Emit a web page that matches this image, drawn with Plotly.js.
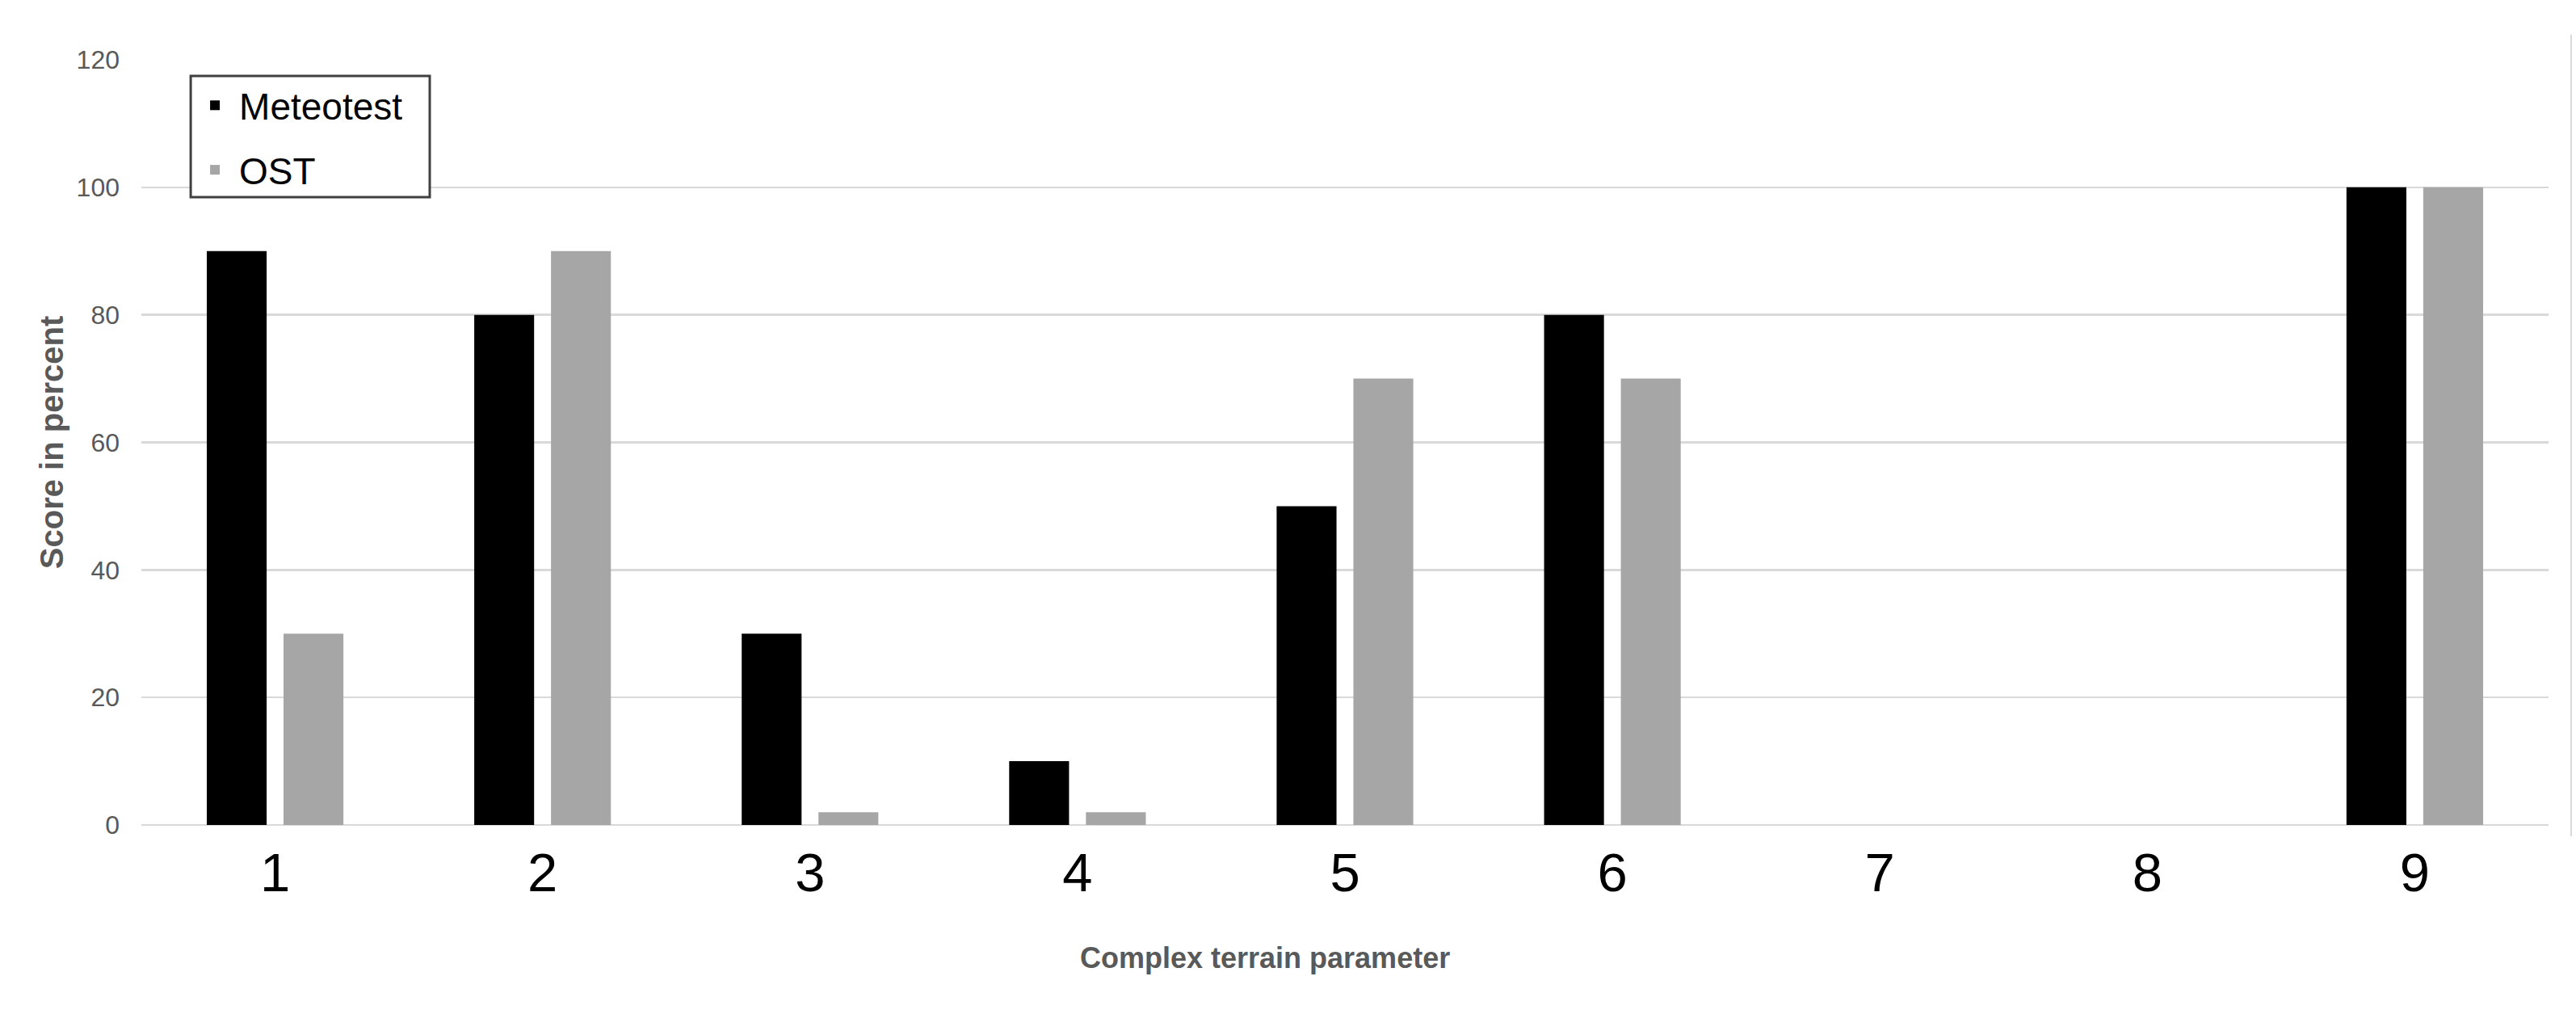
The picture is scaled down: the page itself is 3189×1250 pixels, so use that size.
<!DOCTYPE html>
<html>
<head>
<meta charset="utf-8">
<script src="https://cdn.plot.ly/plotly-3.0.1.min.js"></script>
<style>
  html, body { margin: 0; padding: 0; background: #ffffff; }
  #chart { width: 3189px; height: 1250px; }
</style>
</head>
<body>
<div id="chart"></div>
<script>
// ---- Data ----
const categories = ["1", "2", "3", "4", "5", "6", "7", "8", "9"];
const meteotest = [90, 80, 30, 10, 50, 80, 0, 0, 100];
const ost = [30, 90, 2, 2, 70, 70, 0, 0, 100];
const seriesNames = ["Meteotest", "OST"];
const yTicks = [0, 20, 40, 60, 80, 100, 120];
const xTitle = "Complex terrain parameter";
const yTitle = "Score in percent";

const FONT = "Arial, 'Liberation Sans', sans-serif";

const traces = [
  {
    type: "bar",
    name: seriesNames[0],
    x: categories,
    y: meteotest,
    marker: { color: "#000000" },
    legendgroup: "a"
  },
  {
    type: "bar",
    name: seriesNames[1],
    x: categories,
    y: ost,
    marker: { color: "#a6a6a6" },
    legendgroup: "b"
  }
];

const layout = {
  width: 3189,
  height: 1250,
  paper_bgcolor: "#ffffff",
  plot_bgcolor: "#ffffff",
  margin: { l: 175, r: 34, t: 74, b: 229, pad: 0 },
  barmode: "group",
  bargap: 0.426,
  bargroupgap: 0.22,
  font: { family: FONT, color: "#595959" },
  showlegend: true,
  legend: {
    x: 0.0205,
    y: 0.979,
    xanchor: "left",
    yanchor: "top",
    bgcolor: "rgba(0,0,0,0)",
    borderwidth: 0,
    font: { family: FONT, size: 46, color: "#000000" },
    tracegroupgap: 17,
    traceorder: "grouped",
    itemwidth: 50
  },
  xaxis: {
    type: "category",
    tickfont: { family: FONT, size: 67, color: "#000000" },
    showgrid: false,
    showline: false,
    ticks: "",
    ticklabelstandoff: 14,
    zeroline: false
  },
  yaxis: {
    range: [0, 120],
    tickvals: yTicks,
    ticktext: yTicks.map(String),
    tickfont: { family: FONT, size: 32, color: "#595959" },
    showgrid: true,
    gridcolor: "#d9d9d9",
    gridwidth: 2.5,
    zeroline: true,
    zerolinecolor: "#d9d9d9",
    zerolinewidth: 2.5,
    showline: false,
    ticks: "",
    ticklabelstandoff: 26,
    title: {
      text: yTitle,
      font: { family: FONT, size: 40, color: "#595959", weight: "bold" },
      standoff: 3
    }
  },
  annotations: [
    {
      text: "<b>" + xTitle + "</b>",
      xref: "paper",
      yref: "paper",
      x: 0.4668,
      y: -0.1742,
      xanchor: "center",
      yanchor: "middle",
      showarrow: false,
      font: { family: FONT, size: 36, color: "#595959" }
    }
  ],
  shapes: [
    {
      // legend frame
      type: "rect",
      layer: "above",
      xref: "paper",
      yref: "paper",
      x0: 0.0205, x1: 0.1198,
      y0: 0.8205, y1: 0.9789,
      fillcolor: "#ffffff",
      line: { color: "#404040", width: 3 }
    },
    {
      // outer chart-frame edge on the right
      type: "line",
      xref: "paper",
      yref: "paper",
      x0: 1.0094, x1: 1.0094,
      y0: -0.0148, y1: 1.0327,
      line: { color: "#d9d9d9", width: 2 }
    }
  ]
};

Plotly.newPlot("chart", traces, layout, { displayModeBar: false, staticPlot: true });
</script>
</body>
</html>
